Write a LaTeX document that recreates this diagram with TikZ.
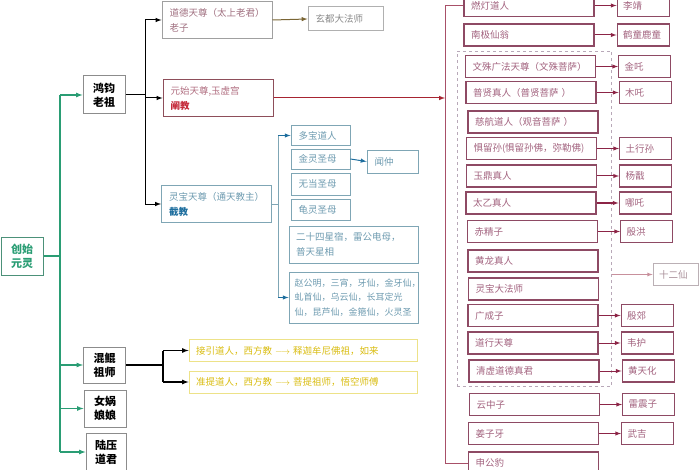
\documentclass[tikz,border=0pt]{standalone}
\usepackage{fontspec}
\newfontfamily\cjk{Noto Sans CJK SC}
\usepackage{tikz}
\usetikzlibrary{arrows,fit,positioning}
\definecolor{qing}{HTML}{2A9D74}
\definecolor{zubian}{HTML}{8C8C8C}
\definecolor{hui}{HTML}{A0A0A0}
\definecolor{daozi}{HTML}{A07080}
\definecolor{zong}{HTML}{7A6534}
\definecolor{yuanbian}{HTML}{8E4E5A}
\definecolor{yuanzi}{HTML}{B06E80}
\definecolor{chanhong}{HTML}{C42A3A}
\definecolor{jiebian}{HTML}{7FA6B5}
\definecolor{jiezi}{HTML}{6E9BB0}
\definecolor{jielan}{HTML}{1E6E9E}
\definecolor{huibian}{HTML}{B0B0B0}
\definecolor{huizi}{HTML}{8A8A8A}
\definecolor{huangbian}{HTML}{EDE288}
\definecolor{huangzi}{HTML}{D9BC10}
\definecolor{chanbian}{HTML}{8E4A64}
\definecolor{chanzi}{HTML}{A2627E}
\definecolor{chanjian}{HTML}{8C2446}
\definecolor{chanxian}{HTML}{A85068}
\definecolor{xubian}{HTML}{B8A8B8}
\definecolor{shierbian}{HTML}{BBB0B5}
\definecolor{shierzi}{HTML}{A88E98}
\definecolor{shierxian}{HTML}{C8909C}
\tikzstyle{zu}=[
	draw=zubian,
	rectangle,
	align=center,
	line width=1pt,
	inner sep=1pt,
	minimum width=42pt,
	minimum height=38pt,
	font=\cjk\bfseries\fontsize{11}{14}\selectfont]
\tikzstyle{jiao}=[
	draw,
	rectangle,
	align=left,
	line width=1pt,
	text width=95pt,
	inner xsep=7.5pt,
	minimum height=37pt,
	font=\cjk\fontsize{9.5}{15}\selectfont]
\tikzstyle{jie}=[
	draw=jiebian,
	rectangle,
	align=left,
	line width=0.9pt,
	text=jiezi,
	text width=44pt,
	inner xsep=7.5pt,
	minimum height=20pt,
	font=\cjk\fontsize{9.5}{15}\selectfont]
\tikzstyle{huang}=[
	draw=huangbian,
	rectangle,
	align=left,
	line width=0.9pt,
	text=huangzi,
	text width=214pt,
	inner xsep=7pt,
	minimum height=22pt,
	font=\cjk\fontsize{9.5}{12}\selectfont]
\tikzstyle{xian}=[
	draw=chanbian,
	rectangle,
	align=left,
	line width=1.1pt,
	text=chanzi,
	text width=116pt,
	inner xsep=7pt,
	minimum height=22pt,
	font=\cjk\fontsize{9.5}{12}\selectfont]
\tikzstyle{tu}=[
	draw=chanbian,
	rectangle,
	align=left,
	line width=1.1pt,
	text=chanzi,
	text width=40pt,
	inner xsep=6pt,
	minimum height=22pt,
	font=\cjk\fontsize{9.5}{12}\selectfont]
\tikzstyle{xu}=[
	draw=xubian,
	rectangle,
	dashed,
	line width=0.8pt]

\begin{document}
\begin{tikzpicture}[x=1pt,y=-1pt,>=latex]
	\useasboundingbox (0,0) rectangle (700,470);
	% ancestors
	\node[zu,draw=qing!60!gray,text=qing]	(csyl)	at (22,256)	{创始\\元灵};
	\node[zu]	(hjlz)	at (104,95)	{鸿钧\\老祖};
	\node[zu,minimum height=36pt]	(hkzs)	at (104.5,365)	{混鲲\\祖师};
	\node[zu,minimum height=37pt]	(nwnn)	at (105,408.5)	{女娲\\娘娘};
	\node[zu,minimum width=40pt]	(lydj)	at (106,452)	{陆压\\道君};
	% buses
	\coordinate (lvxian) at (60,0);
	\coordinate (heixian) at (145,0);
	\coordinate (huangxian) at (163,0);
	\coordinate (jiexian) at (278,0);
	\coordinate (chanxian) at (445,0);
	\begin{scope}[qing,line width=1.2pt]
		\draw (csyl.east) -- (csyl.east -| lvxian);
		\draw (hjlz.west -| lvxian) -- (lydj.west -| lvxian);
		\draw[->] (hjlz.west -| lvxian) -- (hjlz.west);
		\draw[->] (hkzs.west -| lvxian) -- (hkzs.west);
		\draw[->] (nwnn.west -| lvxian) -- (nwnn.west);
		\draw[->] (lydj.west -| lvxian) -- (lydj.west);
	\end{scope}
	% sanqing
	\node[jiao,draw=hui,text=daozi]	(ddts)	at (217,20)	{道德天尊（太上老君）\\老子};
	\node[jiao,draw=yuanbian,text=yuanzi]	(ysts)	at (218,98)	{元始天尊,玉虚宫\\\textbf{\color{chanhong}阐教}};
	\node[jiao,draw=jiebian,text=jiezi]	(lbts)	at (216.5,204)	{灵宝天尊（通天教主）\\\textbf{\color{jielan}截教}};
	\node[jiao,draw=huibian,text=huizi,text width=60pt,minimum height=24pt]	(xdfs)	at (345.5,19)	{玄都大法师};
	\begin{scope}[line width=1pt]
		\draw (hjlz.east) -- (hjlz.east -| heixian);
		\draw (ddts.west -| heixian) -- (lbts.west -| heixian);
		\draw[->] (ddts.west -| heixian) -- (ddts.west);
		\draw[->] (ysts.west -| heixian) -- (ysts.west);
		\draw[->] (lbts.west -| heixian) -- (lbts.west);
		\draw[->,zong] (ddts.east) -- (xdfs.west);
	\end{scope}
	% jiejiao
	\node[jie]	(dbdr)	at (320.5,135.5)	{多宝道人};
	\node[jie]	(jlsm)	at (320.5,159)	{金灵圣母};
	\node[jie,minimum height=22pt]	(wdsm)	at (320.5,184)	{无当圣母};
	\node[jie,minimum height=21pt]	(glsm)	at (320.5,209.5)	{龟灵圣母};
	\node[jie,text width=115pt,inner xsep=7pt,minimum height=37pt]	(esxx)	at (353.5,244.5)	{二十四星宿，雷公电母，\\普天星相};
	\node[jie,text width=118pt,inner xsep=5.5pt,minimum height=51pt,font=\cjk\fontsize{9}{14.5}\selectfont]	(zgm)	at (353.5,297.5)	{赵公明，三宵，牙仙，金牙仙，\\虬首仙，乌云仙，长耳定光\\仙，昆芦仙，金箍仙，火灵圣};
	\node[jie,text width=36pt,minimum height=23pt]	(wz)	at (392.5,161.5)	{闻仲};
	\begin{scope}[jiebian,line width=1pt]
		\draw (lbts.east) -- (lbts.east -| jiexian);
		\draw (dbdr.west -| jiexian) -- (zgm.west -| jiexian);
		\draw[->,jielan] (dbdr.west -| jiexian) -- (dbdr.west);
		\draw[->,jielan] (zgm.west -| jiexian) -- (zgm.west);
		\draw[->,jielan] (jlsm.east) -- (wz.west);
	\end{scope}
	% xifang
	\node[huang]	(jydr)	at (303,350.5)	{接引道人，西方教 $\longrightarrow$ 释迦牟尼佛祖，如来};
	\node[huang]	(zsdr)	at (303,382)	{准提道人，西方教 $\longrightarrow$ 菩提祖师，悟空师傅};
	\begin{scope}[line width=1.2pt]
		\draw (hkzs.east) -- (hkzs.east -| huangxian);
		\draw (jydr.west -| huangxian) -- (zsdr.west -| huangxian);
		\draw[->] (jydr.west -| huangxian) -- (jydr.west);
		\draw[->] (zsdr.west -| huangxian) -- (zsdr.west);
	\end{scope}
	% chanjiao
	\node[xian]	(rddr)	at (529,5.5)	{燃灯道人};
	\node[xian]	(njxw)	at (529,35)	{南极仙翁};
	\node[xian]	(wsgf)	at (530.5,66.5)	{文殊广法天尊（文殊菩萨）};
	\node[xian]	(pxzr)	at (531,92.5)	{普贤真人（普贤菩萨 ）};
	\node[xian]	(chdr)	at (533,122)	{慈航道人（观音菩萨 ）};
	\node[xian]	(jls)	at (531.5,148.5)	{惧留孙(惧留孙佛，弥勒佛)};
	\node[xian]	(ydzr)	at (531.5,176)	{玉鼎真人};
	\node[xian]	(tyzr)	at (531,203)	{太乙真人};
	\node[xian]	(cjz)	at (532.5,231.5)	{赤精子};
	\node[xian]	(hlzr)	at (533,261)	{黄龙真人};
	\node[xian]	(lbdfs)	at (533.5,289)	{灵宝大法师};
	\node[xian]	(gcz)	at (533,315.5)	{广成子};
	\node[xian]	(dxts)	at (533,343)	{道行天尊};
	\node[xian]	(qxdd)	at (534,371)	{清虚道德真君};
	\node[xian]	(yzz)	at (534.5,404.5)	{云中子};
	\node[xian]	(jzy)	at (533.5,433.5)	{姜子牙};
	\node[xian]	(sgb)	at (533.5,463)	{申公豹};
	\node[xu,fit=(wsgf)(qxdd),inner xsep=10pt,inner ysep=4pt,xshift=2pt]	(shier)	{};
	\begin{scope}[node distance=22pt]
		\node[tu]	(lj)	[right=of rddr]	{李靖};
		\node[tu]	(htlt)	[right=of njxw]	{鹤童鹿童};
		\node[tu]	(jzha)	[right=of wsgf]	{金吒};
		\node[tu]	(mzha)	[right=of pxzr]	{木吒};
		\node[tu]	(txs)	[right=of jls]	{土行孙};
		\node[tu]	(yj)	[right=of ydzr]	{杨戬};
		\node[tu]	(nz)	[right=of tyzr]	{哪吒};
		\node[tu]	(yh)	[right=of cjz]	{殷洪};
		\node[tu]	(yjiao)	[right=of gcz]	{殷郊};
		\node[tu]	(wh)	[right=of dxts]	{韦护};
		\node[tu]	(hth)	[right=of qxdd]	{黄天化};
		\node[tu]	(lzz)	[right=of yzz]	{雷震子};
		\node[tu]	(wj)	[right=of jzy]	{武吉};
	\end{scope}
	\node[tu,draw=shierbian,text=shierzi,line width=0.8pt,text width=33pt]	(sex)	at (675.5,274.5)	{十二仙};
	\draw[->,chanhong!85!black,line width=1pt] (ysts.east) -- (ysts.east -| chanxian);
	\draw[chanxian,line width=1pt] (rddr.west) -- (rddr.west -| chanxian) -- (sgb.west -| chanxian) -- (sgb.west);
	\begin{scope}[chanjian,line width=1pt]
		\draw[->] (rddr.east) -- (lj.west);
		\draw[->] (njxw.east) -- (htlt.west);
		\draw[->] (wsgf.east) -- (jzha.west);
		\draw[->] (pxzr.east) -- (mzha.west);
		\draw[->] (jls.east) -- (txs.west);
		\draw[->] (ydzr.east) -- (yj.west);
		\draw[->] (tyzr.east) -- (nz.west);
		\draw[->] (cjz.east) -- (yh.west);
		\draw[->] (gcz.east) -- (yjiao.west);
		\draw[->] (dxts.east) -- (wh.west);
		\draw[->] (qxdd.east) -- (hth.west);
		\draw[->] (yzz.east) -- (lzz.west);
		\draw[->] (jzy.east) -- (wj.west);
	\end{scope}
	\draw[->,shierxian,line width=0.8pt] (shier.east |- sex.west) -- (sex.west);
\end{tikzpicture}
\end{document}
